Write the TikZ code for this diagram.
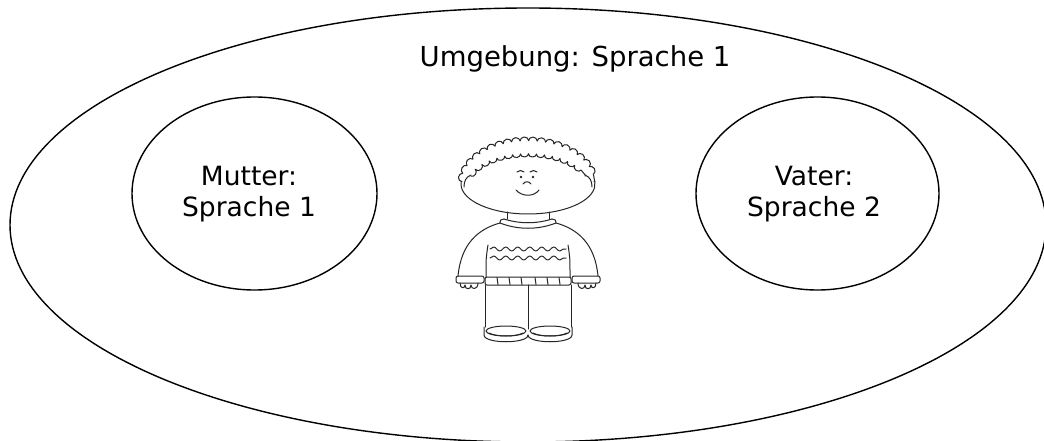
\documentclass[tikz,border=0pt]{standalone}
\usepackage{fontspec}
\setmainfont{DejaVu Sans}
\usetikzlibrary{shapes.geometric,decorations.pathmorphing}
\begin{document}
\begin{tikzpicture}[x=1pt,y=-1pt,
  ring/.style={draw=black, ellipse, line width=1.4pt, inner sep=0pt},
  caption/.style={font=\fontsize{26.5}{31}\selectfont, anchor=base, inner sep=0pt},
  kid/.style={line width=1pt, draw=black!85, line join=round, line cap=round}]
\useasboundingbox (0,0) rectangle (1044,441);
\fill[white] (0,0) rectangle (1044,441);

% circles of language contact
\node[ring, minimum width=1036pt, minimum height=434pt] (env) at (528,225) {};
\node[ring, minimum width=245pt, minimum height=193pt] (mother) at (254.5,193.5) {};
\node[ring, minimum width=243pt, minimum height=193pt] (father) at (817.5,193.5) {};

\node[caption, font=\fontsize{27.5}{31}\selectfont] (envtext) at (575,67) {Umgebung: Sprache 1};
\node[caption] (mothera) at (249,185) {Mutter:};
\node[caption] (motherb) at (249,216) {Sprache 1};
\node[caption] (fathera) at (814,185) {Vater:};
\node[caption] (fatherb) at (814,216) {Sprache 2};

% the child
\begin{scope}[kid]
  % face
  \draw (528,184) ++(185:67 and 30) arc[start angle=185, end angle=-5, x radius=67, y radius=30];
  % curly hair
  \draw[decorate, decoration={bumps, segment length=17pt, amplitude=4pt}]
    (528,184) ++(183:66 and 43) arc[start angle=183, end angle=357, x radius=66, y radius=43];
  \draw[decorate, decoration={bumps, segment length=16pt, amplitude=-3pt}]
    (528,186) ++(198:60 and 32) arc[start angle=198, end angle=342, x radius=60, y radius=32];
  % eyes, brows, nose, mouth
  \fill[black!85] (521,177) circle[radius=1.4pt] (533,177) circle[radius=1.4pt];
  \draw (517,172) .. controls (519,170) and (522,170) .. (524,172);
  \draw (530,172) .. controls (532,170) and (535,170) .. (537,172);
  \draw (523,184) .. controls (525,181) and (529,181) .. (531,184);
  \draw (516,190) .. controls (522,197) and (534,197) .. (539,190);
  % collar
  \draw (504,219) .. controls (520,224) and (536,224) .. (552,219);
  \draw (500,223) .. controls (518,230) and (538,230) .. (556,223);
  % jumper pattern
  \draw[decorate, decoration={snake, segment length=12pt, amplitude=2pt}] (490,249) -- (566,249);
  \draw[decorate, decoration={snake, segment length=12pt, amplitude=2pt}] (490,258) -- (566,258);
  % jumper hem
  \draw[rounded corners=2pt] (485,277) rectangle (571,285);
  \foreach \hx in {497,509,521,535,547,559}
    \draw (\hx,277.5) -- (\hx+1,284.5);
  % trouser legs split
  \draw (528,285) -- (528,329);
  % left half, mirrored for the right half
  \foreach \s/\o in {1/0,-1/1056} {
    \begin{scope}[shift={(\o,0)}, xscale=\s]
      \draw (471,175) .. controls (466,177) and (464,181) .. (464,187);
      \draw (507,212) -- (507,219);
      \draw (504,219) .. controls (500,220) .. (500,223);
      \draw (500,223) .. controls (478,229) and (461,244) .. (458,276);
      \draw[rounded corners=2pt] (456,276) rectangle (484,283);
      \draw (488,245) .. controls (486,258) .. (486,277);
      \draw (460,283) .. controls (460,289) and (465,289) .. (465,285)
            .. controls (465,290) and (471,290) .. (471,285)
            .. controls (471,290) and (478,290) .. (478,283);
      \draw (485,285) -- (485,327);
      \draw (484,327) -- (484,335) .. controls (484,344) and (528,344) .. (528,335);
      \draw (506,331) ellipse[x radius=20, y radius=5];
      \draw (489,333) .. controls (496,337) and (516,337) .. (523,333);
    \end{scope}
  }
\end{scope}
\end{tikzpicture}
\end{document}
